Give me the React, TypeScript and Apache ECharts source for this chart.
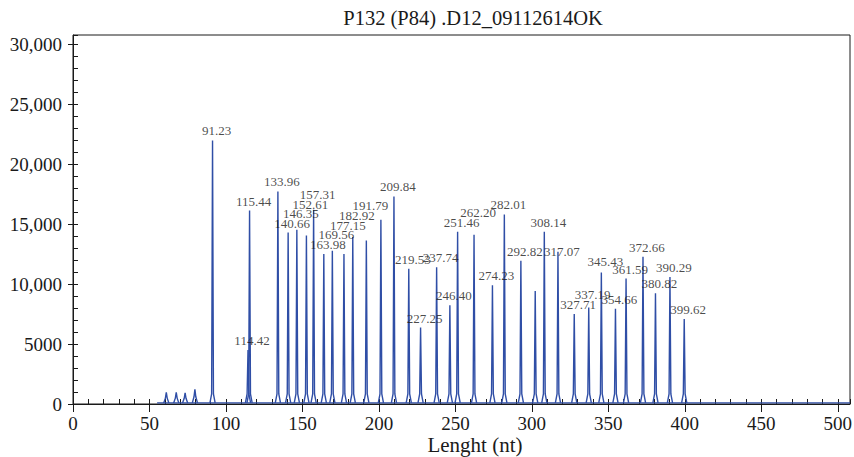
import React, { useEffect, useRef } from "react";
import * as echarts from "echarts";

// ---- data ----
const titleText = "P132 (P84) .D12_09112614OK";
const xName = "Lenght (nt)";
const xTicks = [0, 50, 100, 150, 200, 250, 300, 350, 400, 450, 500];
const yTicks = [0, 5000, 10000, 15000, 20000, 25000, 30000];

// peak positions (nt) and heights (RFU)
const peakSizes = [
  61.0, 67.5, 73.3, 79.7, 91.23, 114.42, 115.44, 133.96, 140.66, 146.35,
  152.61, 157.31, 163.98, 169.56, 177.15, 182.92, 191.79, 201.3, 209.84,
  219.53, 227.25, 237.74, 246.4, 251.46, 262.2, 274.23, 282.01, 292.82,
  302.2, 308.14, 317.07, 327.71, 337.19, 345.43, 354.66, 361.59, 372.66,
  380.82, 390.29, 399.62,
];
const peakHeights = [
  980, 980, 940, 1230, 22000, 4510, 16150, 17740, 14310, 14540,
  14060, 16210, 12510, 12790, 12510, 13930, 13650, 15380, 17320,
  11280, 6380, 11420, 8250, 14370, 14120, 9920, 15820, 11950,
  9440, 14370, 12700, 7520, 8050, 10970, 7960, 10470, 12280,
  9250, 10590, 7100,
];
const peakLabels = [
  "", "", "", "", "91.23", "114.42", "115.44", "133.96", "140.66", "146.35",
  "152.61", "157.31", "163.98", "169.56", "177.15", "182.92", "191.79", "", "209.84",
  "219.53", "227.25", "237.74", "246.40", "251.46", "262.20", "274.23", "282.01", "292.82",
  "", "308.14", "317.07", "327.71", "337.19", "345.43", "354.66", "361.59", "372.66",
  "380.82", "390.29", "399.62",
];
// trace baseline: start, end (nt) and level
const traceStart = 55;
const traceEnd = 508;
const baseline = 90;

// ---- layout (label nudges in px, positive = raised) ----
const labelRaise: Record<string, number> = {
  "146.35": 7,
  "152.61": 22,
  "157.31": 6,
  "169.56": 7,
  "177.15": 19,
  "182.92": 12,
  "191.79": 25,
  "262.20": 13,
  "317.07": -9,
  "337.19": 4,
  "345.43": 2,
};

const FONT = "'Liberation Serif', 'Times New Roman', serif";
const INK = "#1a1a1a";
const TRACE = "#2f4ea6";

export default function App() {
  const ref = useRef<HTMLDivElement>(null);

  useEffect(() => {
    if (!ref.current) return;
    const chart = echarts.init(ref.current, undefined, { renderer: "svg" });

    const peakData = peakSizes.map((s, i) => [s, peakHeights[i]]);
    const labelData = peakSizes
      .map((s, i) => ({ s, h: peakHeights[i], t: peakLabels[i] }))
      .filter((d) => d.t !== "")
      .map((d) => ({
        name: d.t,
        value: [d.s, d.h],
        label: { offset: [4, -(labelRaise[d.t] || 0)] },
      }));

    const option: any = {
      animation: false,
      backgroundColor: "#ffffff",
      graphic: [
        {
          type: "text",
          x: 473,
          y: 18,
          style: {
            text: titleText,
            font: `20.5px ${FONT}`,
            fill: INK,
            align: "center",
            verticalAlign: "middle",
          },
        },
        {
          type: "text",
          x: 475,
          y: 445,
          style: {
            text: xName,
            font: `21px ${FONT}`,
            fill: INK,
            align: "center",
            verticalAlign: "middle",
          },
        },
      ],
      grid: {
        left: 73,
        right: 4,
        top: 35,
        bottom: 53,
        show: true,
        borderColor: INK,
        borderWidth: 1,
        containLabel: false,
        outerBoundsMode: "none",
      },
      xAxis: [
        {
          type: "value",
          min: 0,
          max: 508,
          interval: 50,
          axisLine: { show: true, lineStyle: { color: INK, width: 1 } },
          axisTick: { show: true, inside: false, length: 8, customValues: xTicks, lineStyle: { color: INK } },
          axisLabel: { fontFamily: FONT, fontSize: 19, color: INK, margin: 10, customValues: xTicks },
          splitLine: { show: false },
        },
        {
          type: "value",
          min: 0,
          max: 508,
          interval: 10,
          position: "bottom",
          axisLine: { show: false },
          axisTick: { show: true, inside: true, length: 5, lineStyle: { color: INK } },
          axisLabel: { show: false },
          splitLine: { show: false },
        },
      ],
      yAxis: [
        {
          type: "value",
          min: 0,
          max: 30800,
          interval: 5000,
          axisLine: { show: true, lineStyle: { color: INK, width: 1 } },
          axisTick: { show: true, inside: false, length: 5, customValues: yTicks, lineStyle: { color: INK } },
          axisLabel: {
            fontFamily: FONT,
            fontSize: 19,
            color: INK,
            margin: 11,
            customValues: yTicks,
            formatter: (v: number) => (v >= 10000 ? v.toLocaleString("en-US") : String(v)),
          },
          splitLine: { show: false },
        },
        {
          type: "value",
          min: 0,
          max: 30800,
          interval: 1000,
          position: "left",
          axisLine: { show: false },
          axisTick: { show: true, inside: true, length: 5, lineStyle: { color: INK } },
          axisLabel: { show: false },
          splitLine: { show: false },
        },
      ],
      series: [
        {
          type: "line",
          data: [
            [traceStart, baseline],
            [traceEnd, baseline],
          ],
          showSymbol: false,
          lineStyle: { color: TRACE, width: 1.2 },
          z: 2,
        },
        {
          type: "custom",
          data: peakData,
          encode: { x: 0, y: 1 },
          clip: true,
          z: 3,
          renderItem: (params: any, api: any) => {
            const top = api.coord([api.value(0), api.value(1)]);
            const base = api.coord([api.value(0), baseline]);
            const hpx = base[1] - top[1];
            const flare = Math.min(9, hpx * 0.45);
            const wBase = 2.6;
            const wFlare = 0.9;
            return {
              type: "polyline",
              shape: {
                points: [
                  [top[0] - wBase, base[1]],
                  [top[0] - wFlare, base[1] - flare],
                  [top[0], top[1]],
                  [top[0] + wFlare, base[1] - flare],
                  [top[0] + wBase, base[1]],
                ],
              },
              style: { stroke: TRACE, lineWidth: 1.4, fill: "none" },
            };
          },
        },
        {
          type: "scatter",
          data: labelData,
          symbolSize: 0,
          itemStyle: { color: "transparent" },
          z: 5,
          label: {
            show: true,
            position: "top",
            distance: 3,
            formatter: "{b}",
            fontFamily: FONT,
            fontSize: 13,
            color: INK,
          },
        },
      ],
    };

    chart.setOption(option);
    return () => chart.dispose();
  }, []);

  return <div ref={ref} style={{ width: 854, height: 457, position: "absolute", left: 0, top: 0 }} />;
}
